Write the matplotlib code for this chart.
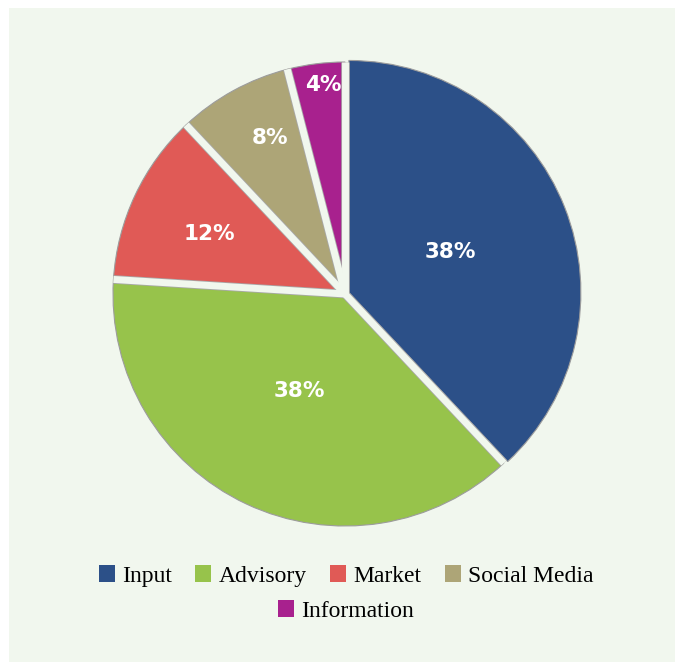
import numpy as np
import matplotlib.pyplot as plt
from matplotlib.patches import Rectangle, Patch

# Data
categories = ['Input', 'Advisory', 'Market', 'Social Media', 'Information']
shares = [38, 38, 12, 8, 4]
colors = ['#2C5088', '#97C34B', '#E05A56', '#ADA577', '#A8218E']

# style per slice
explode = [0.018, 0, 0, 0, 0]
label_r = [0.47, 0.46, 0.64, 0.745, 0.905]
label_dtheta = [0, 0, 1.5, -3, -1.2]

BG = '#F1F7EE'
W, H = 675, 662
fig = plt.figure(figsize=(W / 100, H / 100), dpi=100)
fig.patch.set_facecolor('white')

# light green panel
fig.add_artist(Rectangle((9 / W, 0), 1 - 9 / W, (H - 8) / H,
                         transform=fig.transFigure, facecolor=BG,
                         edgecolor='none', zorder=0))

# pie axes: centre at (345, 294) px, radius 232 px
cx, cy, R, half = 345, 294, 232, 260
ax = fig.add_axes([(cx - half) / W, (H - cy - half) / H, 2 * half / W, 2 * half / H])
ax.patch.set_alpha(0)

wedges, _ = ax.pie(shares, colors=colors, startangle=90, counterclock=False,
                   explode=explode, radius=1.0,
                   wedgeprops=dict(edgecolor='#9C9C9C', linewidth=0.8))
ax.set_xlim(-half / R, half / R)
ax.set_ylim(-half / R, half / R)
ax.axis('off')

# gaps between slices: background strips with a faint grey rim
for w in wedges:
    a = np.deg2rad(w.theta1)
    xs = [0, 1.0 * np.cos(a)]
    ys = [0, 1.0 * np.sin(a)]
    ax.plot(xs, ys, color='#A8A8A8', lw=6.2, solid_capstyle='butt', zorder=5)
    ax.plot(xs, ys, color=BG, lw=5.0, solid_capstyle='butt', zorder=6)

for w, s, r, dt in zip(wedges, shares, label_r, label_dtheta):
    mid = np.deg2rad((w.theta1 + w.theta2) / 2 + dt)
    x0, y0 = w.center
    ax.text(x0 + r * np.cos(mid), y0 + r * np.sin(mid), f'{s}%',
            ha='center', va='center', color='white', fontsize=15.5,
            fontweight='bold', family='DejaVu Sans', zorder=7)

handles = [Patch(facecolor=c, edgecolor='none') for c in colors]
leg_kw = dict(frameon=False, prop={'family': 'Liberation Serif', 'size': 17},
              handlelength=0.68, handleheight=0.68, handletextpad=0.3,
              columnspacing=1.0, borderaxespad=0)
leg1 = fig.legend(handles[:4], categories[:4], ncol=4, loc='center',
                  bbox_to_anchor=(346 / W, 1 - 576 / H), **leg_kw)
leg2 = fig.legend(handles[4:], categories[4:], ncol=1, loc='center',
                  bbox_to_anchor=(346 / W, 1 - 611 / H), **leg_kw)

fig.savefig('out.png', dpi=100, facecolor=fig.get_facecolor())
